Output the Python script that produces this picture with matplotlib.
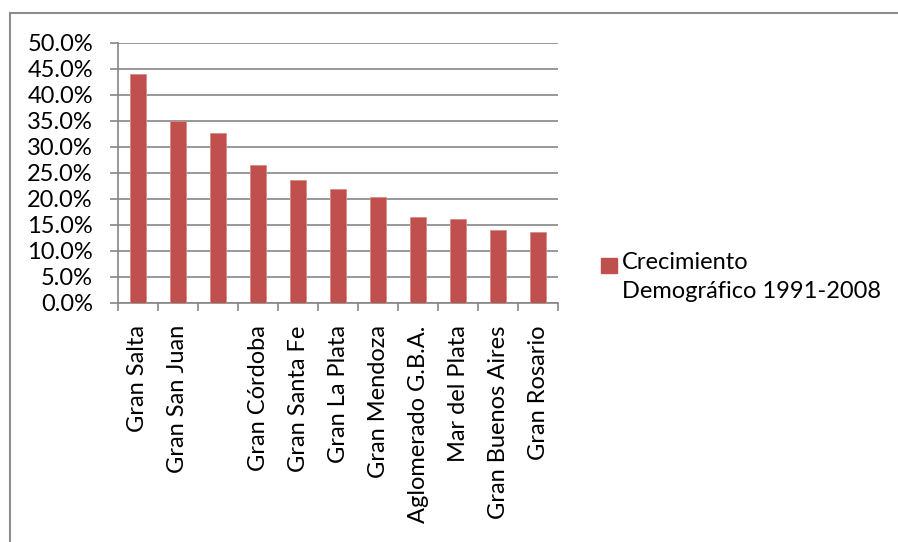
import matplotlib.pyplot as plt
import matplotlib.ticker as mticker
import numpy as np
from matplotlib.lines import Line2D
from matplotlib.patches import Rectangle

# data
ciudades = ['Gran Salta', 'Gran San Juan', '', 'Gran Córdoba', 'Gran Santa Fe',
            'Gran La Plata', 'Gran Mendoza', 'Aglomerado G.B.A.', 'Mar del Plata',
            'Gran Buenos Aires', 'Gran Rosario']
crecimiento = [44.0, 35.0, 32.6, 26.5, 23.6, 21.9, 20.4, 16.5, 16.1, 14.0, 13.7]
serie = 'Crecimiento\nDemográfico 1991-2008'

plt.rcParams['font.family'] = ['Lato', 'DejaVu Sans']
gris = '#868686'
rojo = '#C0504D'
fs = 17

fig = plt.figure(figsize=(8.98, 5.42), dpi=100)
ax = fig.add_axes([0.1314, 0.4410, 0.49, 0.4797])

x = np.arange(len(ciudades))
ax.bar(x, crecimiento, width=0.42, color=rojo, edgecolor='#D98A88', linewidth=0.6, zorder=3)

ax.set_xlim(-0.5, len(ciudades) - 0.5)
ax.set_ylim(0, 50)
ax.yaxis.set_major_locator(mticker.MultipleLocator(5))
ax.yaxis.set_major_formatter(mticker.FuncFormatter(lambda v, p: f'{v:.1f}%'))
ax.grid(axis='y', color=gris, linewidth=1.2, zorder=0)

# category boundaries carry the tick marks, centers carry the labels
ax.set_xticks(np.arange(-0.5, len(ciudades), 1.0))
ax.set_xticklabels([])
ax.set_xticks(x, minor=True)
ax.set_xticklabels(ciudades, minor=True, rotation=90, fontsize=fs, va='top', ha='center')
ax.tick_params(axis='x', which='major', length=6, color=gris, width=1.2)
ax.tick_params(axis='x', which='minor', length=0, pad=16)
ax.tick_params(axis='y', length=6, color=gris, width=1.2, labelsize=fs, pad=12)

for s in ['top', 'right']:
    ax.spines[s].set_visible(False)
for s in ['left', 'bottom']:
    ax.spines[s].set_color(gris)
    ax.spines[s].set_linewidth(1.2)

# legend
fig.patches.append(Rectangle((601 / 898, 1 - 273 / 542), 16 / 898, 15 / 542,
                             transform=fig.transFigure, color=rojo))
fig.text(622 / 898, 1 - 252 / 542, serie, fontsize=fs, va='top', linespacing=1.45)

# outer frame (top and left edges)
fig.add_artist(Line2D([10 / 898, 10 / 898], [0, 1 - 13 / 542], color='#8C8C8C', linewidth=1.5))
fig.add_artist(Line2D([10 / 898, 1], [1 - 13 / 542, 1 - 13 / 542], color='#8C8C8C', linewidth=1.5))

plt.savefig('out.png', dpi=100)
